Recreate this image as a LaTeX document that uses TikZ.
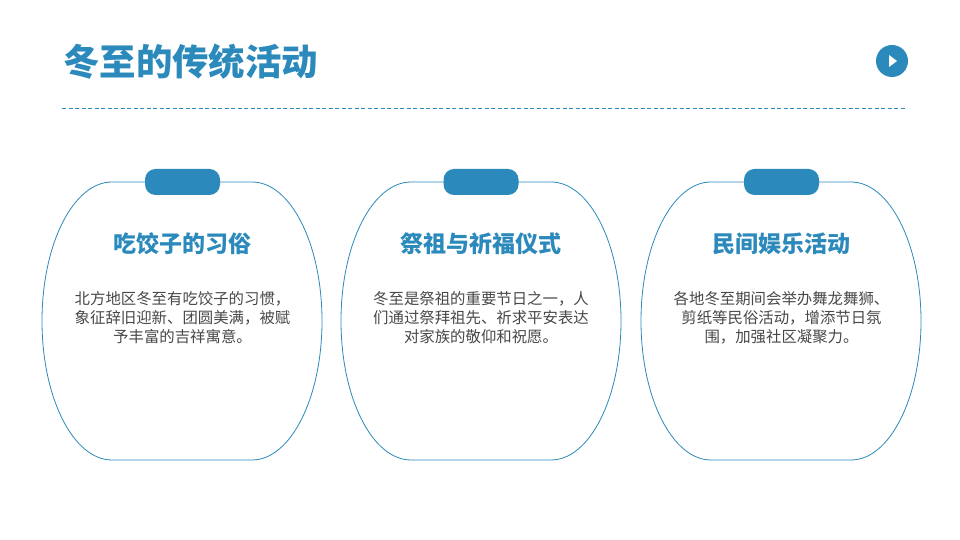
\documentclass[tikz,border=0pt]{standalone}
\usepackage{fontspec}
\usepackage{xcolor}
\usepackage{tikz}
\setmainfont{Noto Sans CJK SC}
\usetikzlibrary{positioning}
\definecolor{themeblue}{HTML}{2B8ABB}
\definecolor{bodygray}{HTML}{484848}
\tikzstyle{pagetitle} = [anchor=west, inner sep=0pt, text=themeblue, font=\fontsize{36.4}{40}\selectfont\bfseries]
\tikzstyle{playdot} = [circle, minimum size=32pt, inner sep=0pt, fill=themeblue]
\tikzstyle{card} = [draw=themeblue, line width=0.8pt, fill=white]
\tikzstyle{tab} = [rectangle, rounded corners=10.5pt, minimum width=75pt, minimum height=26pt, inner sep=0pt, fill=themeblue]
\tikzstyle{heading} = [inner sep=0pt, text=themeblue, font=\fontsize{23}{27}\selectfont\bfseries]
\tikzstyle{body} = [inner sep=0pt, align=center, text=bodygray, font=\fontsize{15.4}{19}\selectfont]

\begin{document}
\begin{tikzpicture}[x=1pt, y=1pt]
        \useasboundingbox (0,0) rectangle (960,540);
        \fill [white] (0,0) rectangle (960,540);

        \node (title) [pagetitle] at (63,478.5) {冬至的传统活动};
        \node (play) [playdot] at (892,479) {};
        \fill [white] (889,485) -- (897,479) -- (889,473) -- cycle;
        \coordinate (ruleLeft) at (62,432);
        \coordinate (ruleRight) at (905,432);
        \draw [themeblue, line width=0.8pt, dash pattern=on 4pt off 2.5pt] (ruleLeft) -- (ruleRight);

        % left card
        \draw [card] (112,358) arc[start angle=90, end angle=270, x radius=70, y radius=139] -- (252,80) arc[start angle=270, end angle=450, x radius=70, y radius=139] -- cycle;
        \node (tabFood) [tab] at (182.5,358) {};
        \node (headFood) [heading] at (182.5,296) {吃饺子的习俗};
        \node (textFood) [body, below=36pt of headFood] {北方地区冬至有吃饺子的习惯，\\象征辞旧迎新、团圆美满，被赋\\予丰富的吉祥寓意。};

        % middle card
        \draw [card] (411,358) arc[start angle=90, end angle=270, x radius=70, y radius=139] -- (551,80) arc[start angle=270, end angle=450, x radius=70, y radius=139] -- cycle;
        \node (tabRite) [tab] at (481,358) {};
        \node (headRite) [heading] at (481,296) {祭祖与祈福仪式};
        \node (textRite) [body, below=36pt of headRite] {冬至是祭祖的重要节日之一，人\\们通过祭拜祖先、祈求平安表达\\对家族的敬仰和祝愿。};

        % right card
        \draw [card] (711,358) arc[start angle=90, end angle=270, x radius=70, y radius=139] -- (851,80) arc[start angle=270, end angle=450, x radius=70, y radius=139] -- cycle;
        \node (tabFolk) [tab] at (781.5,358) {};
        \node (headFolk) [heading] at (781.5,296) {民间娱乐活动};
        \node (textFolk) [body, below=36pt of headFolk] {各地冬至期间会举办舞龙舞狮、\\剪纸等民俗活动，增添节日氛\\围，加强社区凝聚力。};
    \end{tikzpicture}
\end{document}
